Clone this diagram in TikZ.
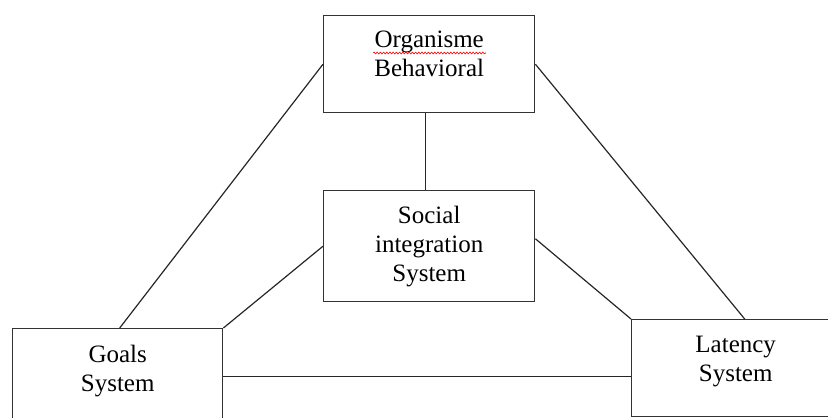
\documentclass[tikz,border=0pt]{standalone}
\usepackage{fontspec}
\setmainfont{Liberation Serif}
\usetikzlibrary{decorations.pathmorphing}

\tikzset{
  sysbox/.style={draw=black!80, line width=1.4pt, inner sep=0pt, anchor=north west},
  systext/.style={anchor=north, align=center, inner sep=0pt, font=\fontsize{25}{29}\selectfont},
  link/.style={draw=black!85, line width=1.2pt},
  spell/.style={red, line width=0.6pt, decorate, decoration={snake, amplitude=0.9pt, segment length=3.2pt}},
}

\begin{document}
\begin{tikzpicture}[x=1pt, y=-1pt]
    \useasboundingbox (0,0) rectangle (828,418);
    \clip (0,0) rectangle (828,418);

    % boxes
    \node[sysbox, minimum width=211pt, minimum height=97pt] (organ) at (323,15) {};
    \node[sysbox, minimum width=211pt, minimum height=111pt] (social) at (323,190) {};
    \node[sysbox, minimum width=210pt, minimum height=96pt] (goals) at (12,328) {};
    \node[sysbox, minimum width=208pt, minimum height=97pt] (latency) at (631,319) {};

    % texts
    \node[systext] (organtxt) at ([yshift=-16pt]organ.north) {Organisme\\Behavioral};
    \node[systext] (socialtxt) at ([yshift=-16pt]social.north) {Social\\integration\\System};
    \node[systext] (goalstxt) at ([yshift=-17pt]goals.north) {Goals\\System};
    \node[systext] (latencytxt) at ([yshift=-17pt]latency.north) {Latency\\System};

    \draw[spell] (373,53) -- (486,53);

    % links
    \draw[link] (organ.west) -- ([xshift=2pt]goals.north);
    \draw[link] (organ.east) -- ([xshift=9pt]latency.north);
    \draw[link] ([xshift=-4pt]organ.south) -- ([xshift=-4pt]social.north);
    \draw[link] (social.west) -- (goals.north east);
    \draw[link] (social.4) -- (latency.north west);
    \draw[link] (goals.east) -- (goals.east -| latency.west);
\end{tikzpicture}
\end{document}
